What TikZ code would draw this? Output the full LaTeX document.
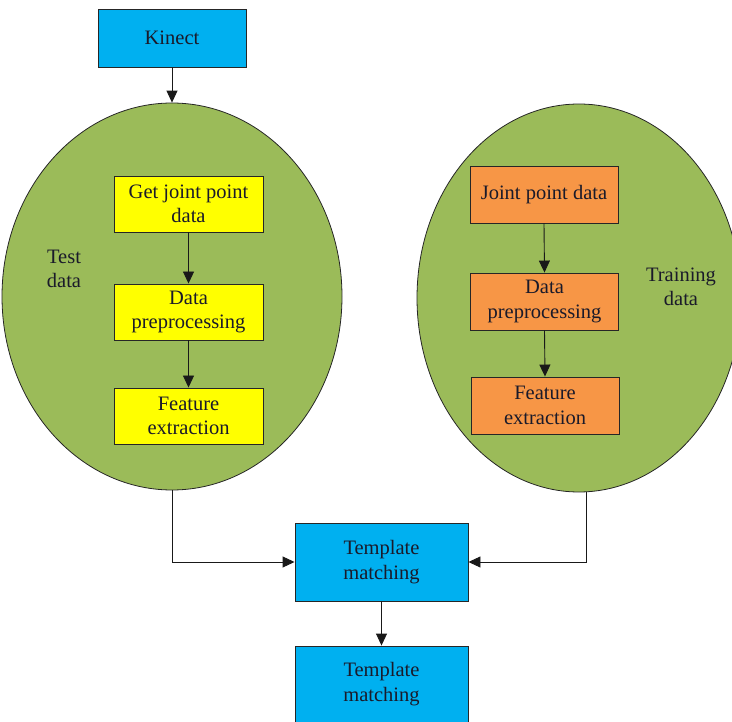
\documentclass[tikz,border=0pt]{standalone}
\usepackage{fontspec}
\setmainfont{Liberation Serif}
\usetikzlibrary{shapes.geometric,arrows.meta}
\definecolor{kblue}{HTML}{00B0F0}
\definecolor{kyellow}{HTML}{FFFF00}
\definecolor{korange}{HTML}{F79646}
\definecolor{kgreen}{HTML}{9BBB59}
\definecolor{ktext}{HTML}{1A1A2A}
\tikzset{
  box/.style={draw=black!85, line width=0.9pt, rectangle, align=center, inner sep=0pt,
    text=ktext, font=\fontsize{20.5}{24.5}\selectfont},
  bluebox/.style={box, fill=kblue},
  yellowbox/.style={box, fill=kyellow, minimum width=149pt, minimum height=56pt},
  orangebox/.style={box, fill=korange, minimum width=148pt, minimum height=57pt},
  blob/.style={ellipse, draw=black!85, line width=0.8pt, fill=kgreen, inner sep=0pt},
  lbl/.style={align=center, text=ktext, font=\fontsize{20.5}{24.5}\selectfont},
  conn/.style={draw=black!90, line width=0.9pt, -{Triangle[length=12pt,width=11pt]}},
}
\begin{document}
\begin{tikzpicture}[x=1pt,y=-1pt]
\useasboundingbox (0,0) rectangle (732,722);
\clip (0,0) rectangle (732,722);
\node[blob, minimum width=340pt, minimum height=387pt] (testell) at (172,296.5) {};
\node[blob, minimum width=324pt, minimum height=388pt] (trainell) at (579,298) {};
\node[bluebox, minimum width=148pt, minimum height=58pt] (kinect) at (172,38) {Kinect};
\node[yellowbox] (y1) at (188.5,204) {Get joint point\\data};
\node[yellowbox] (y2) at (188.5,312) {Data\\preprocessing};
\node[yellowbox] (y3) at (188.5,416) {Feature\\extraction};
\node[orangebox] (o1) at (544,194.5) {Joint point data};
\node[orangebox] (o2) at (544.5,301.5) {Data\\preprocessing};
\node[orangebox] (o3) at (545,405.5) {Feature\\extraction};
\node[lbl] (testlbl) at (64,269) {Test\\data};
\node[lbl] (trainlbl) at (681,287) {Training\\data};
\node[bluebox, minimum width=173pt, minimum height=78pt] (tm1) at (381.5,562) {Template\\matching};
\node[bluebox, minimum width=173pt, minimum height=76pt] (tm2) at (381.5,684) {Template\\matching};
\draw[conn] (kinect.south) -- (testell.north);
\draw[conn] (y1.south) -- (y2.north);
\draw[conn] (y2.south) -- (y3.north);
\draw[conn] (o1.south) -- (o2.north);
\draw[conn] (o2.south) -- (o3.north);
\draw[conn] (testell.south) |- (tm1.west);
\draw[conn] ([xshift=7pt]trainell.south) |- (tm1.east);
\draw[conn] (tm1.south) -- (tm2.north);
\end{tikzpicture}
\end{document}
